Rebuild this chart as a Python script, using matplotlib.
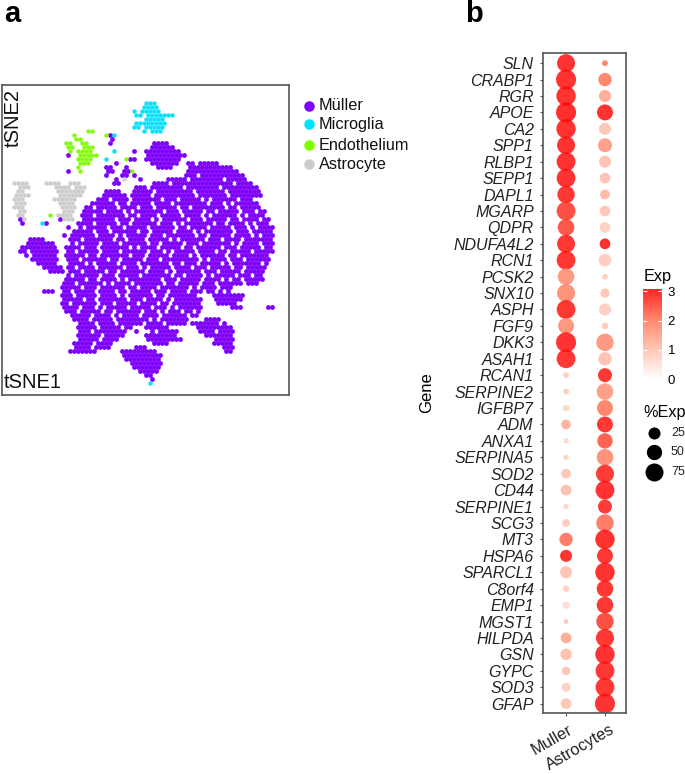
import numpy as np
import matplotlib
matplotlib.use('Agg')
import matplotlib.pyplot as plt
from matplotlib.colors import LinearSegmentedColormap
from matplotlib.transforms import ScaledTranslation

plt.rcParams['font.family'] = ['Liberation Sans', 'DejaVu Sans']

W, H = 685, 774

cluster_names = ['Müller', 'Microglia', 'Endothelium', 'Astrocyte']
cluster_chars = ['#', 'c', 'e', 'a']
cluster_colors = ['#7F00FF', '#00E5FF', '#80FF00', '#CCCCCC']

# tSNE occupancy, one string per row of the embedding
tsne_map = [
    "", "", "", "",
    "....................................ccc",
    "...................................cccc",
    ".................................c.ccccc",
    ".................................cc.ccccccc",
    "....................................ccccc",
    ".................................cccccccc",
    ".................................cc.ccccc",
    ".....................ee............c.ccc",
    "..................e.......e#c",
    "..................ee.......#",
    "................ee..ee.....#..........####",
    "................ee..eee..............######",
    ".................e.eeee.....c....#..#########",
    "................#..eeeee............##########",
    "...................eeee...c....e##..#########",
    "...................eee......#........#######..##.#####",
    "...................e......##...#.......####....###########",
    "................#..e......##..##e.............#############",
    "..........................#...##.#............###.###########",
    "............................#.a...#......#####.########.#####",
    "...aaaa....aaaa..aaa........##........####.###############.####",
    "....aaa......aaaa.aaa............###.########.########.#########",
    "....aa........aaaaaaa.....####...#####.#########.#######.########",
    "...aaaa.......aaaaaa.....######.#####.##########.#######.########",
    "...aaa.......aaaaaa.....###.####.#######.###.#####.#.######.###",
    "...aaa........aaaa....######.##.#####.####.########.###.#.######",
    "...aaa.........aaaa..##.#####.####.###.#####.##.########.##.#####",
    "....aa.........aaa..#####.####.#.#######.###.#####.##.#####.###.##",
    "....aa......e.aaaa..###.#######.##.####.#####.####.#.######.#.####",
    "....#a........#aaa..########.###.####.#.######.###.#####.##.####.##",
    ".....#....c#.......####.#####.##.######.###.#.#######.##.####.#.###",
    "................#..#.#####.###.#####.######.##.####.#####.###.#.####",
    "..................#####.###.######.##.#####.####.#.#######.###.#####",
    "...............#.######.####.#.#####.###.#######.##.#####.####.#.###",
    ".......####......###.#######.##.####.#####.#.######.###.####.#######",
    "......#######....#.#####.####.######.##.#####.###.#######.#.####.###",
    ".....#########..####.###.#######.#.####.#####.##.######.###.#####.##",
    "....##.#######..##.#####.####.######.###.#.#####.####.##.#####.#####",
    "......#.######..#####.##.#######.###.#####.####.#.######.##.#######",
    ".......#######..###.######.##.#####.###.#########.#.####.###.######",
    ".........#####...####.#.#####.####.#######.##.###.#####.#.#######.#",
    "..........#####.##.####.######.###.#.#####.####.###.#####.##.#####",
    "............####.###.#####.##.######.####.#.######.###.#####.#####",
    "................#.######.###.#####.#######.##.####.#.#####.###.##",
    "................#####.##.####.#.########.###.#####.####.#.##.#####",
    "...............###.######.#.####.#######.##.#####.###.######.###",
    "...............#####.###.######.##.####.#######.#.####.###",
    "..........###..##.#####.####.##.#####.###.####.###.##.#.#",
    "...............###.#####.####.#.######.##.#######....########",
    "...............#####.##.#######.###.####.#.#######...#######",
    "...............##.######.###.#####.####.##.#######....#####",
    "...............####.###.#.#####.#####.###.#.######.......###......##",
    "................###.#####.##.######.###.#.###.##.#",
    ".................#####.####.#.####.####.######.##",
    "..................####.#####.########.#.#######....####",
    "...................####.####.######.####.#####.#######.#",
    "...................#####.#####.##...######.......#########",
    "...................###.########..#...#.#####.....####.####",
    "...................######.#####.....########.......#######",
    "...................#####.####.......#########........#####",
    "..................#####.####..........####...........#####",
    "..................####.####......###...................###",
    ".................#######......#########.................##",
    "..............................##########",
    "...............................#########",
    "................................########",
    ".................................#######",
    "..................................#####",
    "....................................##",
    ".....................................#",
    ".....................................c",
]

genes = ['SLN', 'CRABP1', 'RGR', 'APOE', 'CA2', 'SPP1', 'RLBP1', 'SEPP1', 'DAPL1', 'MGARP',
         'QDPR', 'NDUFA4L2', 'RCN1', 'PCSK2', 'SNX10', 'ASPH', 'FGF9', 'DKK3', 'ASAH1', 'RCAN1',
         'SERPINE2', 'IGFBP7', 'ADM', 'ANXA1', 'SERPINA5', 'SOD2', 'CD44', 'SERPINE1', 'SCG3', 'MT3',
         'HSPA6', 'SPARCL1', 'C8orf4', 'EMP1', 'MGST1', 'HILPDA', 'GSN', 'GYPC', 'SOD3', 'GFAP']
cell_types = ['Muller', 'Astrocytes']

muller_pct = [75, 95, 89, 95, 89, 75, 83, 83, 69, 83,
              62, 75, 83, 62, 75, 83, 56, 95, 83, 6,
              6, 8, 18, 4, 4, 18, 21, 4, 12, 35,
              25, 25, 8, 10, 2, 21, 23, 14, 16, 21]
astro_pct = [6, 35, 25, 56, 25, 40, 25, 21, 18, 21,
             21, 21, 30, 6, 16, 25, 8, 69, 35, 40,
             62, 56, 56, 50, 62, 75, 83, 40, 69, 89,
             56, 89, 62, 62, 69, 75, 89, 83, 83, 95]
muller_exp = [2.9, 2.9, 2.9, 2.95, 2.9, 2.9, 2.9, 2.9, 2.85, 2.6,
              2.5, 2.85, 2.85, 1.7, 1.8, 2.85, 1.75, 2.9, 2.85, 0.8,
              0.8, 0.7, 1.3, 0.7, 0.8, 1.0, 1.1, 0.7, 0.9, 2.1,
              2.9, 1.05, 0.8, 0.6, 1.0, 1.4, 1.1, 1.0, 0.8, 1.0]
astro_exp = [2.0, 2.0, 1.4, 2.9, 1.0, 1.6, 1.05, 1.05, 1.2, 1.0,
             0.8, 2.95, 0.85, 0.8, 1.0, 0.85, 0.9, 1.7, 1.05, 2.85,
             1.6, 2.0, 2.85, 2.4, 1.8, 2.8, 2.9, 2.8, 2.1, 2.9,
             2.85, 2.9, 2.85, 2.85, 2.6, 2.85, 2.9, 2.85, 2.85, 2.9]

exp_ticks = [0, 1, 2, 3]
pct_ticks = [25, 50, 75]


def box(x0, y0, x1, y1):
    # pixel box (from top left) to figure fractions
    return [x0 / W, 1 - y1 / H, (x1 - x0) / W, (y1 - y0) / H]


def pct_size(pct):
    # diameter in px to scatter size in points^2
    d = np.interp(pct, [0, 25, 50, 75, 100], [4, 12, 15.3, 18, 20.5])
    return (d * 0.72) ** 2


fig = plt.figure(figsize=(W / 100, H / 100), dpi=100)
cmap = LinearSegmentedColormap.from_list('exp', [(0, '#FFFFFF'), (1 / 3, '#FFBCA8'), (2 / 3, '#FF7050'), (1, '#FF0000')])
frame_col = '#555555'

# panel a
ax_a = fig.add_axes(box(1.5, 85, 288.5, 395))
for char, color in zip(cluster_chars, cluster_colors):
    pts = [(c + 0.5 * (r % 2), r) for r, row in enumerate(tsne_map) for c, v in enumerate(row) if v == char]
    xs, ys = zip(*pts)
    ax_a.scatter(xs, ys, s=12 if char == '#' else 10, color=color, linewidths=0)
ax_a.set_xlim(0, 71.7)
ax_a.set_ylim(77.1, -0.5)
ax_a.set_xticks([])
ax_a.set_yticks([])
for s in ax_a.spines.values():
    s.set_color(frame_col)
    s.set_linewidth(1.2)

# panel b
ax_b = fig.add_axes(box(542.7, 53.3, 626, 713))
ypos = np.arange(len(genes))
ax_b.scatter([1] * len(genes), ypos, s=pct_size(muller_pct), c=muller_exp, cmap=cmap, vmin=0, vmax=3,
             alpha=0.83, linewidths=0)
ax_b.scatter([2] * len(genes), ypos, s=pct_size(astro_pct), c=astro_exp, cmap=cmap, vmin=0, vmax=3,
             alpha=0.83, linewidths=0)
ax_b.set_xlim(0.4, 2.54)
ax_b.set_ylim(len(genes) - 1 + 0.57, -0.6)
ax_b.set_yticks(ypos)
ax_b.set_yticklabels(genes, fontsize=11.5, style='italic', color='#222222')
ax_b.set_xticks([1, 2])
ax_b.set_xticklabels(cell_types, fontsize=11.8, rotation=30, ha='right', va='baseline', rotation_mode='anchor', color='#222222')
ax_b.tick_params(axis='y', length=2.5, width=0.8, color='#555555', pad=4)
ax_b.tick_params(axis='x', length=2.5, width=0.8, color='#555555', pad=11.5)
for lab, dx in zip(ax_b.get_xticklabels(), [8, 11]):
    lab.set_transform(lab.get_transform() + ScaledTranslation(dx / 100, 0, fig.dpi_scale_trans))
for s in ax_b.spines.values():
    s.set_color(frame_col)
    s.set_linewidth(1.2)

# colourbar
ax_c = fig.add_axes(box(643.3, 289, 662, 379.3))
ax_c.imshow(np.linspace(3.08, 0, 200)[:, None], cmap=cmap, vmin=0, vmax=3, alpha=0.83, aspect='auto',
            extent=[0, 1, 0, 3.08])
ax_c.set_xticks([])
ax_c.set_yticks(exp_ticks)
ax_c.set_yticklabels(exp_ticks, fontsize=9.5)
ax_c.tick_params(axis='y', length=0, pad=4)
ax_c.hlines(exp_ticks, 0, 0.2, color='white', lw=0.8)
ax_c.hlines(exp_ticks, 0.8, 1, color='white', lw=0.8)
ax_c.yaxis.tick_right()
for s in ax_c.spines.values():
    s.set_visible(False)

# overlay in pixel coordinates for legends and labels
ov = fig.add_axes([0, 0, 1, 1], zorder=5)
ov.set_xlim(0, W)
ov.set_ylim(H, 0)
ov.axis('off')
ov.patch.set_alpha(0)

for y, name, color in zip([106, 124, 145, 164], cluster_names, cluster_colors):
    ov.scatter([309], [y], s=(10.5 * 0.72) ** 2, color=color, linewidths=0)
    ov.text(319, y, name, fontsize=11.7, va='center', color='#111111')

for y, p in zip([432.7, 451.7, 471.7], pct_ticks):
    ov.scatter([654], [y], s=pct_size(p), color='black', linewidths=0)
    ov.text(671, y, str(p), fontsize=9, va='center', color='#222222')

ov.text(644, 277, 'Exp', fontsize=11.7, va='center')
ov.text(643, 413, '%Exp', fontsize=11.7, va='center')
ov.text(427, 393, 'Gene', fontsize=12, rotation=90, ha='center', va='center')
ov.text(4, 383, 'tSNE1', fontsize=14.5, va='center', color='#111111')
ov.text(13, 118, 'tSNE2', fontsize=14.5, rotation=90, ha='center', va='center', color='#111111')
ov.text(4, 14, 'a', fontsize=21, fontweight='bold', va='center')
ov.text(465, 14, 'b', fontsize=21, fontweight='bold', va='center')

fig.savefig('out.png', dpi=100)
